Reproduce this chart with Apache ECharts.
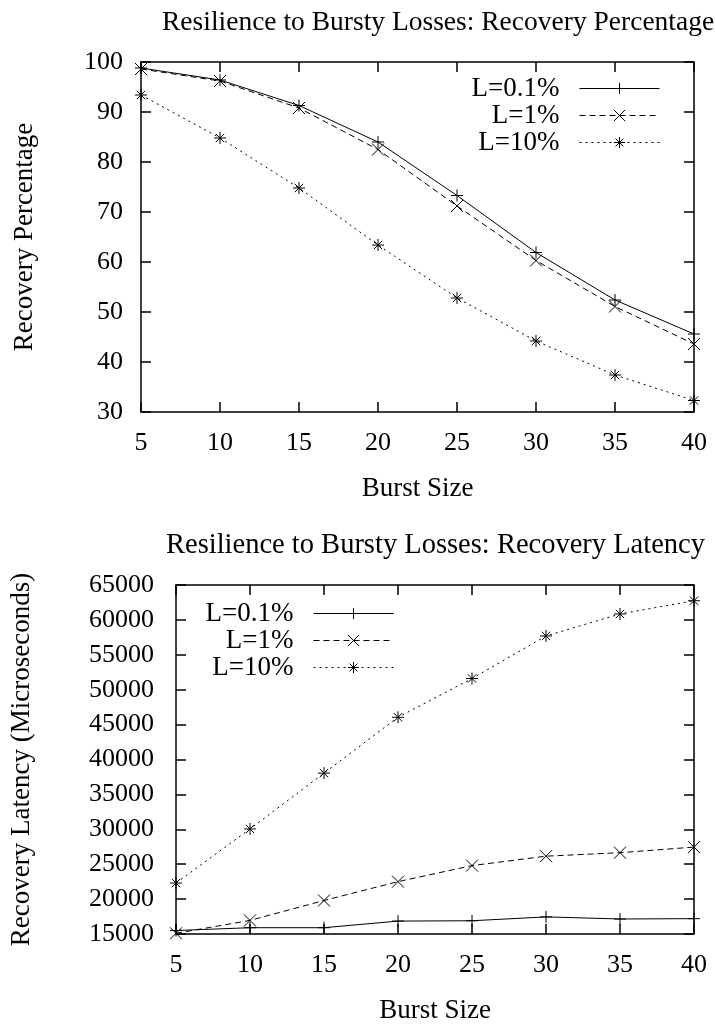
<!DOCTYPE html>
<html>
<head>
<meta charset="utf-8">
<script src="https://cdn.jsdelivr.net/npm/echarts@6/dist/echarts.min.js"></script>
<style>
  html, body { margin: 0; padding: 0; background: #fff; }
  #chart { width: 715px; height: 1025px; }
</style>
</head>
<body>
<div id="chart"></div>
<script>
// Burst sizes on the x axis (shared by both panels)
const burstSizes = [5, 10, 15, 20, 25, 30, 35, 40];
const lossNames = ['L=0.1%', 'L=1%', 'L=10%'];

// Recovery percentage per loss rate
const pctL01 = [98.8, 96.4, 91.3, 84.0, 73.3, 61.9, 52.4, 45.6];
const pctL1  = [98.6, 96.2, 90.8, 82.5, 71.2, 60.3, 51.1, 43.6];
const pctL10 = [93.4, 84.8, 74.8, 63.4, 52.8, 44.2, 37.4, 32.3];

// Recovery latency (microseconds) per loss rate
const latL01 = [15500, 15900, 15900, 16850, 16900, 17450, 17150, 17200];
const latL1  = [15100, 16950, 19800, 22500, 24800, 26150, 26650, 27450];
const latL10 = [22300, 30050, 38050, 46050, 51600, 57700, 60850, 62750];

const FONT = 'Liberation Serif';
const TICK_SIZE = 26;
const TEXT_SIZE = 27;

// gnuplot-style point types: plus, cross, star
const PLUS  = 'path://M0,5L10,5M5,0L5,10';
const CROSS = 'path://M0,0L10,10M10,0L0,10';
const STAR  = 'path://M0,5L10,5M5,0L5,10M1.5,1.5L8.5,8.5M8.5,1.5L1.5,8.5';
const symbols = [PLUS, CROSS, STAR];
const dashes = ['solid', [6, 4], [2, 4]];

function pairs(values) {
  return burstSizes.map((x, i) => [x, values[i]]);
}

function makeSeries(name, values, k, gridIdx) {
  return {
    type: 'line',
    name: name,
    xAxisIndex: gridIdx * 2,
    yAxisIndex: gridIdx * 2,
    data: pairs(values),
    symbol: symbols[k],
    symbolSize: 12,
    showAllSymbol: true,
    clip: false,
    itemStyle: { color: '#000', borderColor: '#000', borderWidth: 1 },
    lineStyle: { color: '#000', width: 1, type: dashes[k] },
    emphasis: { disabled: true }
  };
}

const axisLineStyle = { lineStyle: { color: '#000', width: 1.5 } };
const tickStyle = { show: true, inside: true, length: 10, lineStyle: { color: '#000', width: 1.5 } };
const tickLabel = { color: '#000', fontFamily: FONT, fontSize: TICK_SIZE };
const nameText = { color: '#000', fontFamily: FONT, fontSize: TEXT_SIZE };

function xAxes(gridIdx) {
  const base = {
    type: 'value', gridIndex: gridIdx, min: 5, max: 40, interval: 5,
    axisLine: axisLineStyle, axisTick: tickStyle, splitLine: { show: false }
  };
  return [
    Object.assign({}, base, {
      position: 'bottom',
      axisLabel: Object.assign({ margin: 18 }, tickLabel),
      name: 'Burst Size', nameLocation: 'middle', nameGap: 63,
      nameTextStyle: nameText
    }),
    Object.assign({}, base, { position: 'top', axisLabel: { show: false } })
  ];
}

function yAxes(gridIdx, min, max, interval, name, gap, margin) {
  const base = {
    type: 'value', gridIndex: gridIdx, min: min, max: max, interval: interval,
    axisLine: axisLineStyle, axisTick: tickStyle, splitLine: { show: false }
  };
  return [
    Object.assign({}, base, {
      position: 'left',
      axisLabel: Object.assign({ margin: margin, formatter: v => String(v) }, tickLabel),
      name: name, nameLocation: 'middle', nameGap: gap,
      nameTextStyle: nameText
    }),
    Object.assign({}, base, { position: 'right', axisLabel: { show: false } })
  ];
}

function legendAt(right, top) {
  return {
    orient: 'vertical',
    align: 'right',
    right: right,
    top: top,
    itemWidth: 80,
    itemHeight: 14,
    itemGap: 0,
    selectedMode: false,
    data: lossNames,
    lineStyle: { width: 1 },
    itemStyle: { color: '#000', borderColor: '#000', borderWidth: 1 },
    textStyle: { color: '#000', fontFamily: FONT, fontSize: TEXT_SIZE, padding: [0, 15, 0, 0] }
  };
}

const chart = echarts.init(document.getElementById('chart'), null, { renderer: 'canvas' });

chart.setOption({
  animation: false,
  backgroundColor: '#fff',
  title: [
    {
      text: 'Resilience to Bursty Losses: Recovery Percentage',
      left: 157, top: 4,
      textStyle: { color: '#000', fontFamily: FONT, fontWeight: 'normal', fontSize: 27.5 }
    },
    {
      text: 'Resilience to Bursty Losses: Recovery Latency',
      left: 161, top: 526,
      textStyle: { color: '#000', fontFamily: FONT, fontWeight: 'normal', fontSize: 28.5 }
    }
  ],
  grid: [
    { left: 141, right: 21, top: 62, height: 350 },
    { left: 176, right: 21, top: 585, height: 350 }
  ],
  legend: [
    legendAt(50, 70),
    legendAt(316, 595)
  ],
  xAxis: xAxes(0).concat(xAxes(1)),
  yAxis: yAxes(0, 30, 100, 10, 'Recovery Percentage', 103, 18)
    .concat(yAxes(1, 15000, 65000, 5000, 'Recovery Latency (Microseconds)', 141, 22)),
  series: [
    makeSeries(lossNames[0], pctL01, 0, 0),
    makeSeries(lossNames[1], pctL1, 1, 0),
    makeSeries(lossNames[2], pctL10, 2, 0),
    makeSeries(lossNames[0], latL01, 0, 1),
    makeSeries(lossNames[1], latL1, 1, 1),
    makeSeries(lossNames[2], latL10, 2, 1)
  ]
});
</script>
</body>
</html>
